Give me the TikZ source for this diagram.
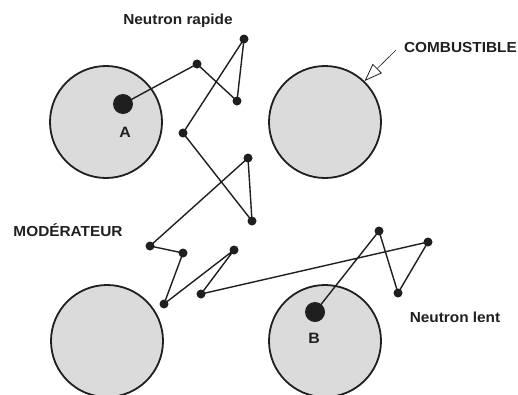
\documentclass[tikz,border=0pt]{standalone}
\usepackage{fontspec}
\setmainfont{Liberation Sans}[FakeStretch=1.06]
\usetikzlibrary{arrows.meta}
\definecolor{fuelgray}{gray}{0.86}
\definecolor{inkc}{gray}{0.12}
\tikzset{
  fuel/.style={circle, draw=inkc, line width=1.8pt, fill=fuelgray, minimum size=112pt, inner sep=0pt},
  hop/.style={circle, fill=inkc, minimum size=9pt, inner sep=0pt},
  nucleus/.style={circle, fill=inkc, minimum size=20pt, inner sep=0pt},
  path/.style={draw=inkc, line width=1.4pt},
  lbl/.style={font=\bfseries\fontsize{14.5}{16}\selectfont, text=inkc, inner sep=0pt},
  biglbl/.style={font=\bfseries\fontsize{15}{17}\selectfont, text=inkc, inner sep=0pt}
}
\begin{document}
\begin{tikzpicture}[x=1pt,y=-1pt]
\useasboundingbox (0,0) rectangle (518,394);
\node[fuel] (fa) at (106,122) {};
\node[fuel] (fb) at (325,122) {};
\node[fuel] (fc) at (107,341) {};
\node[fuel] (fd) at (325,341) {};
\node[nucleus] (A) at (123,104) {};
\node[nucleus] (B) at (315,312) {};
\node[biglbl] (la) at (125,132) {A};
\node[biglbl] (lb) at (314,338) {B};
\node[hop] (p1) at (197,64) {};
\node[hop] (p2) at (237,101) {};
\node[hop] (p3) at (244,39) {};
\node[hop] (p4) at (183,133) {};
\node[hop] (p5) at (252,221) {};
\node[hop] (p6) at (248,158) {};
\node[hop] (p7) at (150,246) {};
\node[hop] (p8) at (183,253) {};
\node[hop] (p9) at (164,304) {};
\node[hop] (p10) at (234,250) {};
\node[hop] (p11) at (201,294) {};
\node[hop] (p12) at (428,242) {};
\node[hop] (p13) at (398,293) {};
\node[hop] (p14) at (379,231) {};
\draw[path] (A.center) -- (p1.center) -- (p2.center) -- (p3.center) -- (p4.center)
  -- (p5.center) -- (p6.center) -- (p7.center) -- (p8.center) -- (p9.center)
  -- (p10.center) -- (p11.center) -- (p12.center) -- (p13.center) -- (p14.center) -- (B.center);
\node[lbl] (rap) at (178,21) {Neutron rapide};
\node[lbl, anchor=east] (comb) at (517,48) {COMBUSTIBLE};
\node[lbl] (mod) at (68,230) {MODÉRATEUR};
\node[lbl] (lent) at (455,317) {Neutron lent};
\coordinate (tail) at (396,50);
\draw[draw=inkc, line width=0.6pt, -{Triangle[open, length=18pt, width=13pt, line width=0.8pt]}] (tail) -- (fb.46);
\end{tikzpicture}
\end{document}
